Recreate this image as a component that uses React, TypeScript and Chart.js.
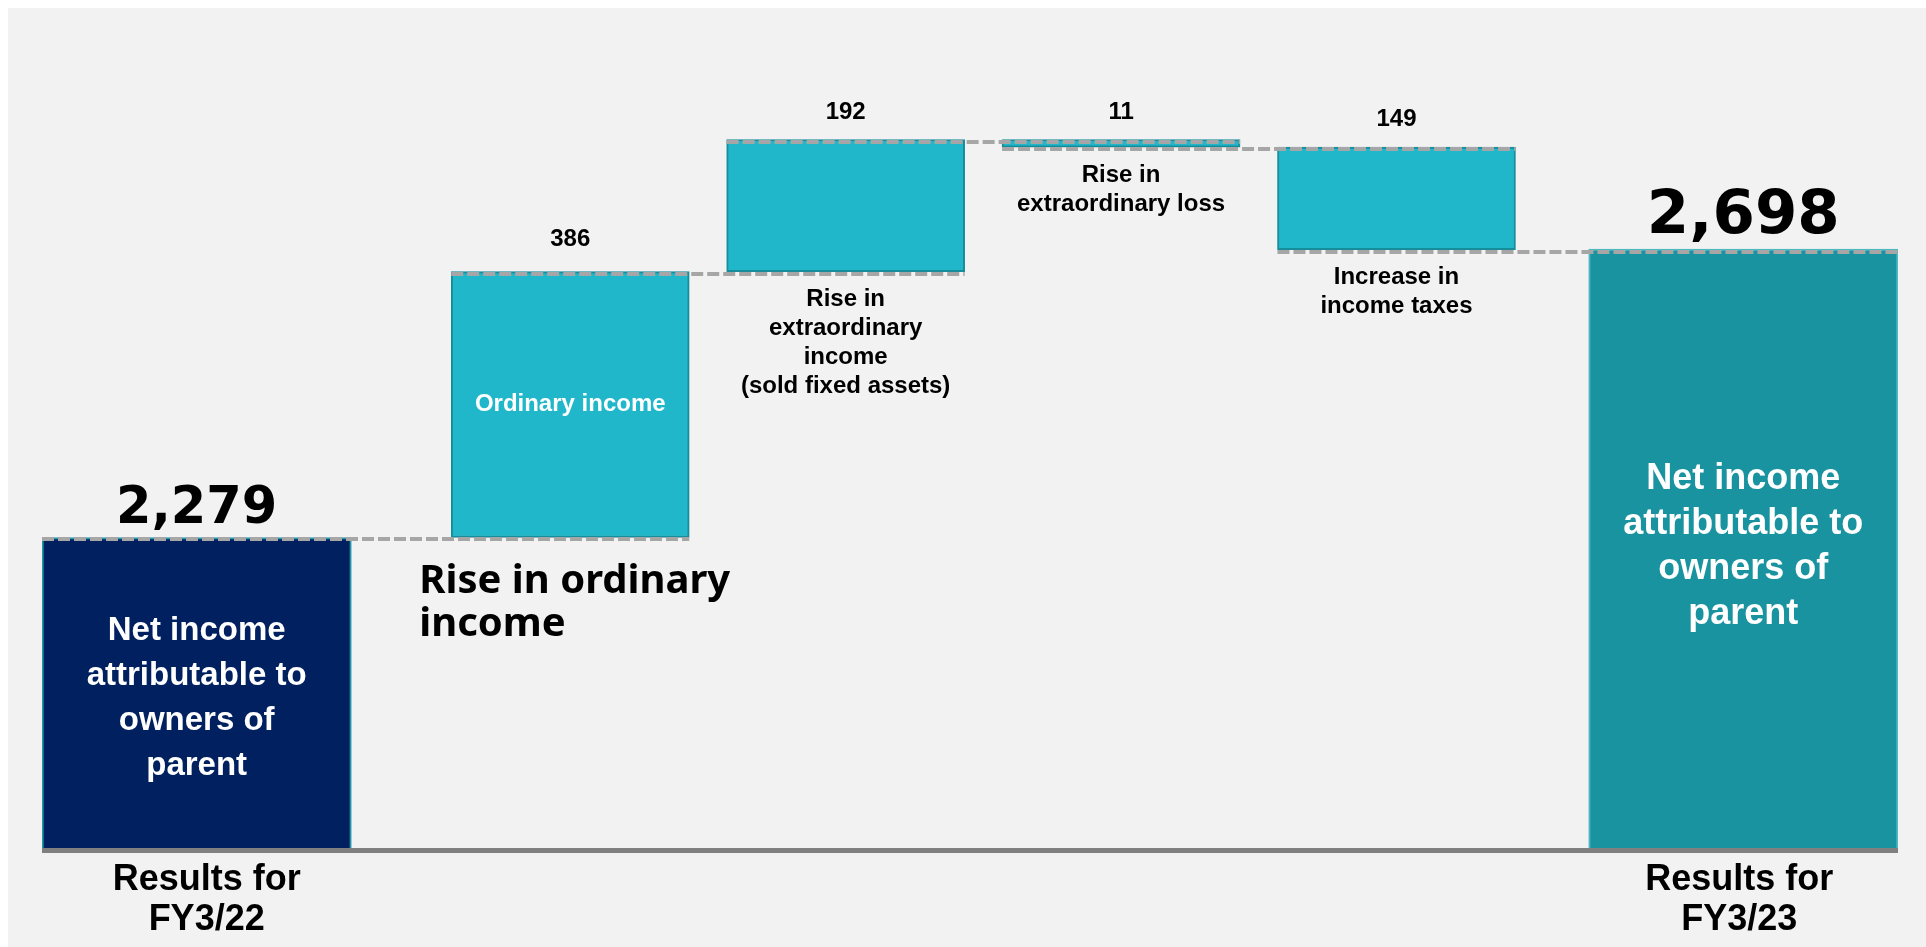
import React, { useEffect, useRef } from 'react';
import { Chart, registerables } from 'chart.js';

Chart.register(...registerables);

// ---- data ----
const categories = [
  'Results for FY3/22',
  'Rise in ordinary income',
  'Rise in extraordinary income',
  'Rise in extraordinary loss',
  'Increase in income taxes',
  'Results for FY3/23',
];
const totalValues: (number | null)[] = [2279, null, null, null, null, 2698];
const changeValues: (number | null)[] = [null, 386, 192, -11, -149, null];
const valueLabels = ['2,279', '386', '192', '11', '149', '2,698'];
const axisLabels: string[][] = [['Results for', 'FY3/22'], [], [], [], [], ['Results for', 'FY3/23']];
const insideLabels: string[][] = [
  ['Net income', 'attributable to', 'owners of', 'parent'],
  ['Ordinary income'],
  [],
  [],
  [],
  ['Net income', 'attributable to', 'owners of', 'parent'],
];
const belowLabels: string[][] = [
  [],
  ['Rise in ordinary', 'income'],
  ['Rise in', 'extraordinary', 'income', '(sold fixed assets)'],
  ['Rise in', 'extraordinary loss'],
  ['Increase in', 'income taxes'],
  [],
];
const yMin = 1828;
const yMax = 3048;
// the change bars sit on their own (hidden) index axis, spaced more tightly than the totals
const changeAxisMin = -0.918;
const changeAxisMax = 5.821;

// floating ranges for the change bars, built from the values above
const changeRanges: ([number, number] | null)[] = [];
{
  let running = totalValues[0] as number;
  changeValues.forEach((v) => {
    if (v == null) {
      changeRanges.push(null);
      return;
    }
    const s = running;
    running = s + v;
    changeRanges.push([s, running]);
  });
}
const changePoints = changeRanges
  .map((r, i) => (r ? { x: i, y: r } : null))
  .filter((p) => p !== null) as { x: number; y: [number, number] }[];
const levels = categories.map((_, i) =>
  totalValues[i] != null ? (totalValues[i] as number) : (changeRanges[i] as [number, number])[1]
);

const ARIAL = '"Liberation Sans", Arial, sans-serif';
const VERDANA = '"DejaVu Sans", Verdana, sans-serif';
const MEIRYO = '"Noto Sans", "Liberation Sans", sans-serif';

function drawLines(
  ctx: CanvasRenderingContext2D,
  lines: string[],
  x: number,
  firstY: number,
  lh: number,
  font: string,
  color: string,
  align: CanvasTextAlign
) {
  ctx.font = font;
  ctx.fillStyle = color;
  ctx.textAlign = align;
  ctx.textBaseline = 'middle';
  lines.forEach((l, k) => ctx.fillText(l, x, firstY + k * lh));
}

const annotate = {
  id: 'annotate',
  afterDatasetsDraw(chart: any) {
    const ctx: CanvasRenderingContext2D = chart.ctx;
    const yScale = chart.scales.y;
    const area = chart.chartArea;
    const totalsMeta = chart.getDatasetMeta(0);
    const changeMeta = chart.getDatasetMeta(1);
    const bars = categories.map((_, i) => {
      let el;
      if (totalValues[i] != null) {
        el = totalsMeta.data[i];
      } else {
        const k = changePoints.findIndex((p) => p.x === i);
        el = changeMeta.data[k];
      }
      const p = el.getProps(['x', 'y', 'base', 'width'], true);
      return {
        cx: p.x,
        left: p.x - p.width / 2,
        right: p.x + p.width / 2,
        top: Math.min(p.y, p.base),
        bottom: Math.max(p.y, p.base),
      };
    });

    ctx.save();
    // dashed connectors
    ctx.strokeStyle = '#A6A6A6';
    ctx.lineWidth = 4;
    ctx.setLineDash([12, 4]);
    for (let i = 0; i < bars.length - 1; i++) {
      const py = Math.round(yScale.getPixelForValue(levels[i])) + 2;
      ctx.beginPath();
      ctx.moveTo(bars[i].left, py);
      ctx.lineTo(bars[i + 1].right, py);
      ctx.stroke();
    }
    ctx.setLineDash([]);

    // base axis line
    ctx.fillStyle = '#808080';
    ctx.fillRect(bars[0].left, area.bottom, bars[bars.length - 1].right - bars[0].left, 5);

    // value labels
    bars.forEach((b, i) => {
      ctx.fillStyle = '#000000';
      ctx.textAlign = 'center';
      ctx.textBaseline = 'alphabetic';
      if (totalValues[i] != null) {
        const size = i === 0 ? 51 : 61;
        ctx.font = `bold ${size}px ${VERDANA}`;
        ctx.fillText(valueLabels[i], b.cx, b.top - (i === 0 ? 14 : 16));
      } else {
        ctx.font = `bold 24px ${ARIAL}`;
        ctx.fillText(valueLabels[i], b.cx, b.top - (i === 1 ? 26 : 21));
      }
    });

    // inside labels
    bars.forEach((b, i) => {
      const lines = insideLabels[i];
      if (!lines.length) return;
      const isTotal = totalValues[i] != null;
      const size = isTotal ? (i === 0 ? 33 : 36) : 24;
      const lh = isTotal ? 45 : 29;
      const mid = (b.top + b.bottom) / 2 + (i === 0 ? 6 : isTotal ? -2 : 0);
      const first = mid - ((lines.length - 1) * lh) / 2;
      drawLines(ctx, lines, b.cx, first, lh, `bold ${size}px ${ARIAL}`, '#FFFFFF', 'center');
    });

    // below labels
    bars.forEach((b, i) => {
      const lines = belowLabels[i];
      if (!lines.length) return;
      if (i === 1) {
        drawLines(ctx, lines, b.left - 32, b.bottom + 44, 43, `bold 40px ${MEIRYO}`, '#000000', 'left');
      } else {
        drawLines(ctx, lines, b.cx, b.bottom + 28, 29, `bold 24px ${ARIAL}`, '#000000', 'center');
      }
    });

    // category labels
    bars.forEach((b, i) => {
      const lines = axisLabels[i];
      if (!lines.length) return;
      drawLines(ctx, lines, b.cx + (i === 0 ? 10 : -4), area.bottom + 32, 40, `bold 36px ${ARIAL}`, '#000000', 'center');
    });
    ctx.restore();
  },
};

export default function App() {
  const canvasRef = useRef<HTMLCanvasElement | null>(null);

  useEffect(() => {
    if (!canvasRef.current) return;
    const chart = new Chart(canvasRef.current, {
      type: 'bar',
      data: {
        labels: categories,
        datasets: [
          {
            label: 'Totals',
            data: totalValues as any,
            xAxisID: 'x',
            base: yMin,
            backgroundColor: ['#002060', null, null, null, null, '#1A93A0'] as any,
            borderColor: ['#2395A5', null, null, null, null, '#4FB9C3'] as any,
            borderWidth: 2,
            barPercentage: 1,
            categoryPercentage: 1,
          } as any,
          {
            label: 'Changes',
            data: changePoints as any,
            xAxisID: 'x2',
            backgroundColor: '#20B7CA',
            borderColor: '#178D9C',
            borderWidth: 2,
            borderSkipped: false,
            barThickness: 238,
          } as any,
        ],
      },
      options: {
        animation: false,
        responsive: true,
        maintainAspectRatio: false,
        layout: { padding: { left: 34, right: 28, top: 0, bottom: 99 } },
        datasets: { bar: { grouped: false } } as any,
        plugins: {
          legend: { display: false },
          tooltip: { enabled: false },
        },
        scales: {
          x: { type: 'category', display: false, offset: true },
          x2: { type: 'linear', display: false, offset: false, min: changeAxisMin, max: changeAxisMax },
          y: { display: false, min: yMin, max: yMax },
        } as any,
      },
      plugins: [annotate],
    });
    return () => chart.destroy();
  }, []);

  return (
    <div
      style={{
        position: 'fixed',
        left: 8,
        top: 8,
        right: 0,
        bottom: 0,
        background: '#F2F2F2',
      }}
    >
      <div style={{ position: 'relative', width: '100%', height: '100%' }}>
        <canvas ref={canvasRef} />
      </div>
    </div>
  );
}
